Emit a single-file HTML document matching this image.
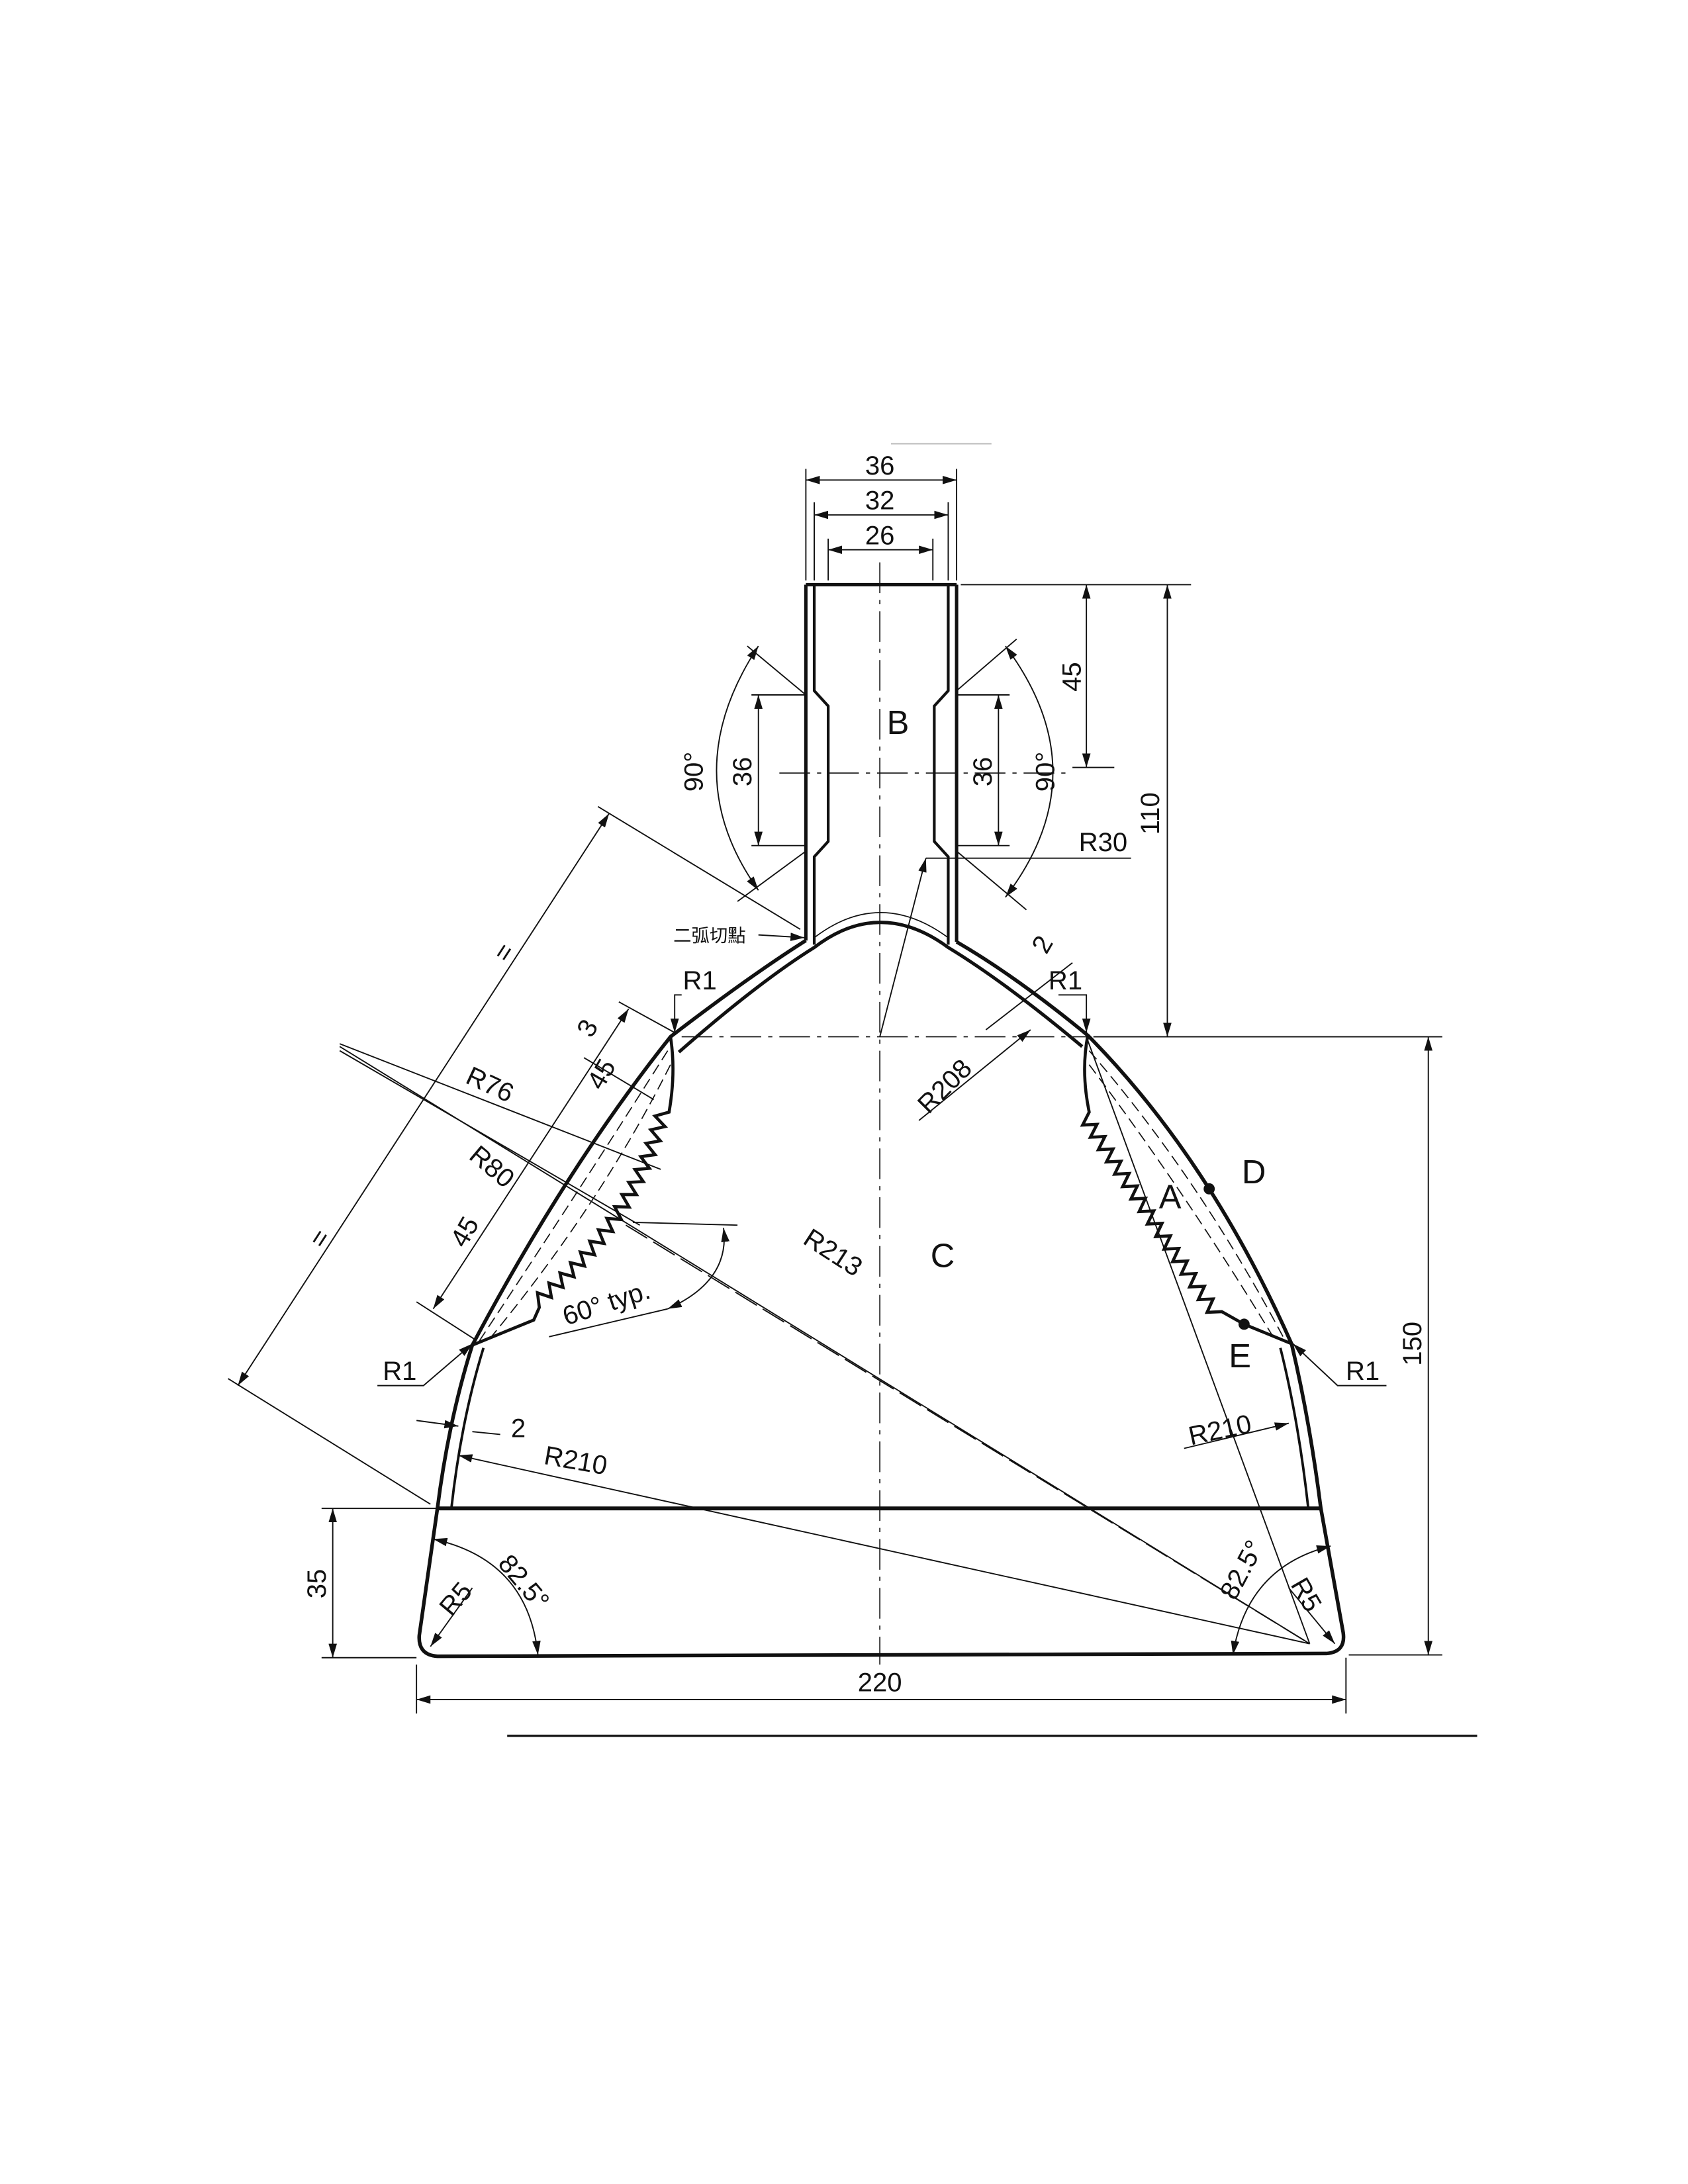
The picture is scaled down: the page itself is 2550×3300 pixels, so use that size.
<!DOCTYPE html>
<html><head><meta charset="utf-8">
<style>
html,body{margin:0;padding:0;background:#fff;}
svg{display:block;}
text{font-family:"Liberation Sans","Noto Sans CJK TC",sans-serif;fill:#111;}
</style></head>
<body>
<svg id="dwg" width="2550" height="3300" viewBox="0 0 1224 1584" xmlns="http://www.w3.org/2000/svg">
<defs>
<marker id="ar" viewBox="0 0 10 6" refX="10" refY="3" markerWidth="10" markerHeight="6" orient="auto-start-reverse" markerUnits="userSpaceOnUse"><path d="M0,0 L10,3 L0,6 Z" fill="#111"/></marker>
</defs>
<g transform="translate(-1.6,-2) scale(1.012)">
<g fill="none" stroke="#111">
<line x1="632" y1="405" x2="632" y2="1195" stroke-width="0.8" stroke-dasharray="22,5,3,5"/>
<line x1="560" y1="556" x2="770" y2="556" stroke-width="0.8" stroke-dasharray="22,5,3,5"/>
<line x1="490" y1="745" x2="780" y2="745" stroke-width="0.8" stroke-dasharray="22,5,3,5"/>

<g>
<line x1="579" y1="421" x2="687" y2="421" stroke-width="2.4"/>
<line x1="579" y1="421" x2="579" y2="676" stroke-width="2.4"/>
<line x1="687" y1="421" x2="687" y2="677" stroke-width="2.4"/>
<path d="M585,421 L585,497 L595,508 L595,605 L585,616 L585,679" stroke-width="2"/>
<path d="M681,421 L681,497 L671,508 L671,605 L681,616 L681,679" stroke-width="2"/>
</g>

<path d="M579,676 Q538,702 482,745 Q408,838 340,966 Q323,1020 315,1083" stroke-width="2.6"/>
<path d="M687,677 Q730,702 781,744 Q868,832 927,965 Q940,1020 948,1083" stroke-width="2.6"/>
<path d="M488,756 Q545,706 585,681 Q632,645 681,681 Q722,706 777,752" stroke-width="2.4"/>
<path d="M585,674 Q632,638 681,674" stroke-width="0.8"/>
<path d="M348,968 Q332,1020 325,1083" stroke-width="1.8"/>
<path d="M919,968 Q932,1020 939,1083" stroke-width="1.8"/>

<line x1="315" y1="1083" x2="948" y2="1083" stroke-width="2.8"/>
<path d="M315,1083 L302,1174 Q301,1188 315,1189 L952,1187 Q966,1186 964,1172 L948,1083" stroke-width="2.6"/>

<path id="lpanel" stroke-width="2.2"/>
<path id="rpanel" stroke-width="2.2"/>
<path d="M480,755 Q420,850 345,963" stroke-width="0.8" stroke-dasharray="8,4"/>
<path d="M482,765 Q432,865 352,962" stroke-width="0.8" stroke-dasharray="8,4"/>
<path d="M782,755 Q860,845 922,962" stroke-width="0.8" stroke-dasharray="8,4"/>
<path d="M782,765 Q850,855 915,962" stroke-width="0.8" stroke-dasharray="8,4"/>

<g stroke-width="0.9">
<line x1="579" y1="338" x2="579" y2="418"/><line x1="687" y1="338" x2="687" y2="418"/>
<line x1="585" y1="362" x2="585" y2="418"/><line x1="681" y1="362" x2="681" y2="418"/>
<line x1="595" y1="388" x2="595" y2="418"/><line x1="670" y1="388" x2="670" y2="418"/>
<line x1="579" y1="346" x2="687" y2="346" marker-start="url(#ar)" marker-end="url(#ar)"/>
<line x1="585" y1="371" x2="681" y2="371" marker-start="url(#ar)" marker-end="url(#ar)"/>
<line x1="595" y1="396" x2="670" y2="396" marker-start="url(#ar)" marker-end="url(#ar)"/>
<line x1="640" y1="320" x2="712" y2="320" stroke="#bbb"/>

<line x1="690" y1="421" x2="855" y2="421"/>
<line x1="780" y1="421" x2="780" y2="552" marker-start="url(#ar)" marker-end="url(#ar)"/>
<line x1="770" y1="552" x2="800" y2="552"/>
<line x1="838" y1="421" x2="838" y2="745" marker-start="url(#ar)" marker-end="url(#ar)"/>
<line x1="785" y1="745" x2="1035" y2="745"/>
<line x1="1025" y1="745" x2="1025" y2="1188" marker-start="url(#ar)" marker-end="url(#ar)"/>
<line x1="968" y1="1188" x2="1035" y2="1188"/>

<line x1="540" y1="500" x2="578" y2="500"/><line x1="540" y1="608" x2="578" y2="608"/>
<line x1="545" y1="500" x2="545" y2="608" marker-start="url(#ar)" marker-end="url(#ar)"/>
<line x1="688" y1="500" x2="725" y2="500"/><line x1="688" y1="608" x2="725" y2="608"/>
<line x1="717" y1="500" x2="717" y2="608" marker-start="url(#ar)" marker-end="url(#ar)"/>

<path d="M545,465 Q485,556 545,640" marker-start="url(#ar)" marker-end="url(#ar)"/>
<line x1="537" y1="465" x2="579" y2="500"/><line x1="530" y1="648" x2="579" y2="612"/>
<path d="M722,465 Q790,556 722,645" marker-start="url(#ar)" marker-end="url(#ar)"/>
<line x1="730" y1="460" x2="687" y2="497"/><line x1="737" y1="654" x2="687" y2="612"/>
<line x1="665" y1="617" x2="812" y2="617"/>
<line x1="665" y1="617" x2="632" y2="745" marker-start="url(#ar)"/>

<line x1="232" y1="1083" x2="315" y2="1083"/>
<line x1="232" y1="1190" x2="300" y2="1190"/>
<line x1="240" y1="1083" x2="240" y2="1190" marker-start="url(#ar)" marker-end="url(#ar)"/>
<line x1="300" y1="1195" x2="300" y2="1230"/><line x1="966" y1="1190" x2="966" y2="1230"/>
<line x1="300" y1="1220" x2="966" y2="1220" marker-start="url(#ar)" marker-end="url(#ar)"/>
<line x1="365" y1="1246" x2="1060" y2="1246" stroke-width="1.6"/>

<line x1="438" y1="585" x2="172" y2="995" marker-start="url(#ar)" marker-end="url(#ar)"/>
<line x1="430" y1="580" x2="575" y2="668"/>
<line x1="165" y1="990" x2="310" y2="1080"/>
<line x1="452" y1="725" x2="312" y2="940" marker-start="url(#ar)" marker-end="url(#ar)"/>
<line x1="445" y1="720" x2="485" y2="742"/><line x1="300" y1="935" x2="342" y2="962"/>
<line x1="420" y1="760" x2="470" y2="790"/>

<line x1="245" y1="750" x2="475" y2="840"/>
<line x1="245" y1="755" x2="460" y2="880"/>
<line x1="245" y1="752" x2="940" y2="1180"/>
<line x1="330" y1="1045" x2="940" y2="1180" marker-start="url(#ar)"/>
<line x1="450" y1="880" x2="940" y2="1180" stroke-dasharray="18,5"/>
<line x1="780" y1="745" x2="940" y2="1180"/>
<line x1="660" y1="805" x2="740" y2="740" marker-end="url(#ar)"/>
<line x1="708" y1="740" x2="770" y2="692"/>
<line x1="850" y1="1040" x2="925" y2="1022" marker-end="url(#ar)"/>
<line x1="300" y1="1020" x2="330" y2="1024" marker-end="url(#ar)"/>
<line x1="360" y1="1030" x2="340" y2="1028"/>
<path d="M490,715 L485,715 L485,742" marker-end="url(#ar)"/>
<path d="M760,715 L780,715 L780,742" marker-end="url(#ar)"/>
<path d="M272,995 L305,995 L340,965" marker-end="url(#ar)"/>
<path d="M995,995 L960,995 L928,965" marker-end="url(#ar)"/>
<path d="M545,672 L578,674" marker-end="url(#ar)"/>
<path d="M520,882 Q525,920 480,940" marker-start="url(#ar)" marker-end="url(#ar)"/>
<line x1="455" y1="878" x2="530" y2="880"/><line x1="395" y1="960" x2="480" y2="940"/>
<path d="M312,1105 Q380,1120 387,1188" marker-start="url(#ar)" marker-end="url(#ar)"/>
<path d="M955,1110 Q895,1125 885,1188" marker-start="url(#ar)" marker-end="url(#ar)"/>
<line x1="340" y1="1140" x2="310" y2="1182" marker-end="url(#ar)"/>
<line x1="925" y1="1140" x2="958" y2="1180" marker-end="url(#ar)"/>
</g>
</g>

<circle cx="868" cy="854" r="4" fill="#111"/>
<circle cx="893" cy="951" r="4" fill="#111"/>

<g font-size="19">
<text x="632" y="342" text-anchor="middle">36</text>
<text x="632" y="367" text-anchor="middle">32</text>
<text x="632" y="392" text-anchor="middle">26</text>
<text x="645" y="528" text-anchor="middle" font-size="24">B</text>
<text x="677" y="910" text-anchor="middle" font-size="24">C</text>
<text x="840" y="868" text-anchor="middle" font-size="24">A</text>
<text x="900" y="850" text-anchor="middle" font-size="24">D</text>
<text x="890" y="982" text-anchor="middle" font-size="24">E</text>
<text transform="translate(776,487) rotate(-90)" text-anchor="middle">45</text>
<text transform="translate(832,585) rotate(-90)" text-anchor="middle">110</text>
<text transform="translate(1020,965) rotate(-90)" text-anchor="middle">150</text>
<text transform="translate(235,1137) rotate(-90)" text-anchor="middle">35</text>
<text x="632" y="1214" text-anchor="middle">220</text>
<text transform="translate(540,555) rotate(-90)" text-anchor="middle">36</text>
<text transform="translate(712,555) rotate(-90)" text-anchor="middle">36</text>
<text transform="translate(505,555) rotate(-90)" text-anchor="middle">90°</text>
<text transform="translate(757,555) rotate(-90)" text-anchor="middle">90°</text>
<text x="792" y="612" text-anchor="middle">R30</text>
<text x="510" y="677" text-anchor="middle" font-size="13">二弧切點</text>
<text x="503" y="711" text-anchor="middle">R1</text>
<text x="765" y="711" text-anchor="middle">R1</text>
<text x="288" y="991" text-anchor="middle">R1</text>
<text x="978" y="991" text-anchor="middle">R1</text>
<text transform="translate(754,682) rotate(-60)" text-anchor="middle">2</text>
<text transform="translate(683,785) rotate(-45)" text-anchor="middle">R208</text>
<text transform="translate(350,785) rotate(25)" text-anchor="middle">R76</text>
<text transform="translate(350,843) rotate(40)" text-anchor="middle">R80</text>
<text transform="translate(595,905) rotate(33)" text-anchor="middle">R213</text>
<text transform="translate(428,742) rotate(-60)" text-anchor="middle">3</text>
<text transform="translate(438,775) rotate(-60)" text-anchor="middle">45</text>
<text transform="translate(340,888) rotate(-60)" text-anchor="middle">45</text>
<text transform="translate(368,688) rotate(-57)" text-anchor="middle">=</text>
<text transform="translate(236,893) rotate(-57)" text-anchor="middle">=</text>
<text transform="translate(438,942) rotate(-18)" text-anchor="middle">60° typ.</text>
<text x="373" y="1032" text-anchor="middle">2</text>
<text transform="translate(413,1055) rotate(10)" text-anchor="middle">R210</text>
<text transform="translate(877,1033) rotate(-12)" text-anchor="middle">R210</text>
<text transform="translate(372,1140) rotate(50)" text-anchor="middle">82.5°</text>
<text transform="translate(897,1130) rotate(-62)" text-anchor="middle">82.5°</text>
<text transform="translate(333,1152) rotate(-50)" text-anchor="middle">R5</text>
<text transform="translate(932,1148) rotate(60)" text-anchor="middle">R5</text>
</g>
</g>
</svg>
<script>
function q(p0,c,p1,t){return [(1-t)*(1-t)*p0[0]+2*(1-t)*t*c[0]+t*t*p1[0],(1-t)*(1-t)*p0[1]+2*(1-t)*t*c[1]+t*t*p1[1]];}
function zig(p0,c,p1,n,amp,side){
  var pts=[];
  for(var i=0;i<=n*2;i++){
    var t=i/(n*2);var p=q(p0,c,p1,t);var p2=q(p0,c,p1,Math.min(1,t+0.01));var p1b=q(p0,c,p1,Math.max(0,t-0.01));
    var dx=p2[0]-p1b[0],dy=p2[1]-p1b[1],L=Math.hypot(dx,dy)||1;
    var nx=-dy/L*side,ny=dx/L*side;var a=(i%2)?amp:0;
    pts.push((p[0]+nx*a).toFixed(1)+','+(p[1]+ny*a).toFixed(1));
  }
  return pts;
}
var L=zig([481,799],[459,883],[388,939],16,9,1);
document.getElementById('lpanel').setAttribute('d','M482,745 Q486,770 481,799 L'+L.join(' L')+' L384,948 L340,966');
var R=zig([782,799],[827,869],[877,942],16,9,1);
document.getElementById('rpanel').setAttribute('d','M781,744 Q776,770 782,799 L'+R.join(' L')+' L893,951 L927,965');
</script>
</body></html>
